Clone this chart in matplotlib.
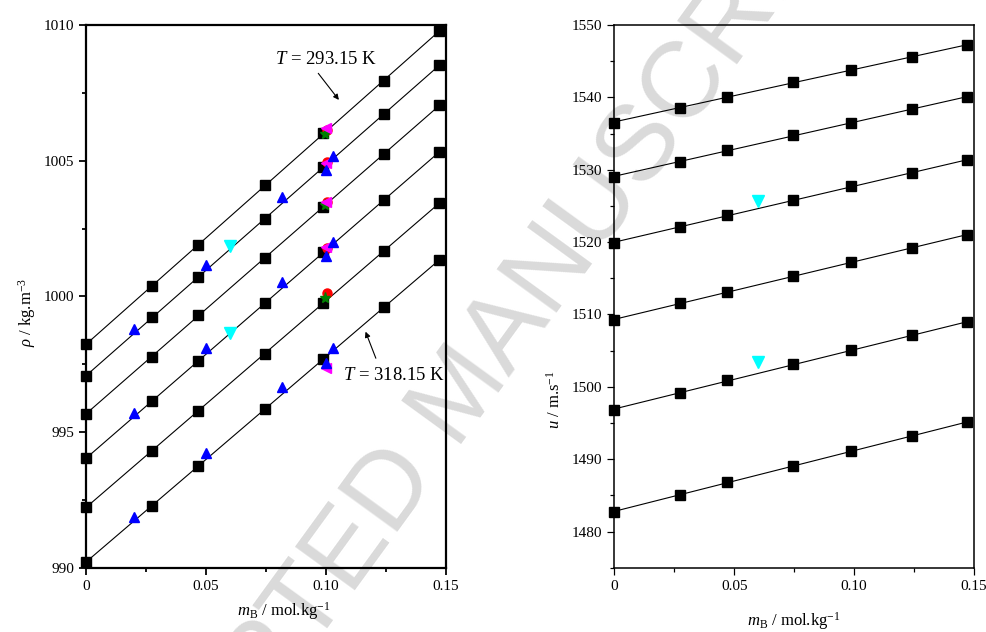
import numpy as np
import matplotlib
matplotlib.use('Agg')
import matplotlib.pyplot as plt
from matplotlib.ticker import MultipleLocator, FixedLocator, FixedFormatter

plt.rcParams['font.family'] = ['Liberation Serif', 'DejaVu Serif']
plt.rcParams['mathtext.fontset'] = 'custom'
plt.rcParams['mathtext.rm'] = 'Liberation Serif'
plt.rcParams['mathtext.it'] = 'Liberation Serif:italic'

# molality of the measured points (same for both panels)
m_B = [0.0, 0.0274, 0.0468, 0.0746, 0.0989, 0.1240, 0.1473]

# density, T = 293.15 ... 318.15 K (top to bottom)
rho_293 = [998.23, 1000.38, 1001.89, 1004.09, 1006.01, 1007.94, 1009.78]
rho_298 = [997.06, 999.23, 1000.70, 1002.86, 1004.78, 1006.71, 1008.51]
rho_303 = [995.66, 997.78, 999.30, 1001.43, 1003.30, 1005.23, 1007.04]
rho_308 = [994.03, 996.14, 997.62, 999.74, 1001.62, 1003.54, 1005.33]
rho_313 = [992.22, 994.30, 995.79, 997.89, 999.77, 1001.67, 1003.43]
rho_318 = [990.20, 992.29, 993.75, 995.85, 997.68, 999.60, 1001.34]

# speed of sound, top to bottom
u_293 = [1536.5, 1538.6, 1540.1, 1542.1, 1543.8, 1545.6, 1547.2]
u_298 = [1529.0, 1531.1, 1532.7, 1534.8, 1536.5, 1538.4, 1540.0]
u_303 = [1519.9, 1522.1, 1523.7, 1525.8, 1527.7, 1529.6, 1531.3]
u_308 = [1509.2, 1511.6, 1513.1, 1515.3, 1517.2, 1519.2, 1521.0]
u_313 = [1496.8, 1499.2, 1500.9, 1503.1, 1505.1, 1507.1, 1508.9]
u_318 = [1482.7, 1485.1, 1486.8, 1489.1, 1491.1, 1493.2, 1495.1]

# literature values
lit_up_x = [0.0815, 0.050, 0.0815, 0.103, 0.100, 0.103, 0.100, 0.020, 0.050,
            0.020, 0.103, 0.0815, 0.100, 0.050, 0.020]
lit_up_y = [1003.67, 1001.16, 1000.54, 1005.17, 1004.66, 1002.01, 1001.49, 998.78, 998.08,
            995.71, 998.08, 996.65, 997.53, 994.22, 991.88]
lit_down_x = [0.060, 0.060]
lit_down_y = [1001.86, 998.64]
lit_circ_x = [0.1005, 0.1005, 0.1005, 0.1005, 0.1005]
lit_circ_y = [1006.13, 1004.96, 1003.46, 1001.80, 1000.11]
lit_star_x = [0.0995, 0.0995, 0.0995]
lit_star_y = [1006.00, 1003.38, 999.95]
lit_left_x = [0.100, 0.100, 0.100, 0.100, 0.100]
lit_left_y = [1006.19, 1004.93, 1003.49, 1001.81, 997.35]
lit_u_x = [0.060, 0.060]
lit_u_y = [1525.7, 1503.5]

xtick_vals = [0, 0.05, 0.10, 0.15]
xtick_labels = ['0', '0.05', '0.10', '0.15']

rho_sets = [rho_293, rho_298, rho_303, rho_308, rho_313, rho_318]
u_sets = [u_293, u_298, u_303, u_308, u_313, u_318]

fig = plt.figure(figsize=(9.87, 6.32), dpi=100)
ax1 = fig.add_axes([0.0871, 0.1017, 0.3647, 0.8587])
ax2 = fig.add_axes([0.6224, 0.1017, 0.3644, 0.8587])

# watermark behind everything
fig.text(0.468, 0.374, 'ACCEPTED MANUSCRIPT', family='Liberation Sans', fontsize=78,
         color='#dadada', rotation=54, ha='center', va='center', zorder=-1)

x = np.array(m_B)
xx = np.array([x.min(), x.max()])
for ax, sets in ((ax1, rho_sets), (ax2, u_sets)):
    ax.set_facecolor('none')
    for s in sets:
        k = np.polyfit(x, s, 1)
        ax.plot(xx, np.polyval(k, xx), color='k', lw=0.8, zorder=2)
        ax.plot(x, s, 's', color='k', ms=6.5, zorder=3, clip_on=False)

ax1.plot(lit_circ_x, lit_circ_y, 'o', color='red', ms=6.5, zorder=4)
ax1.plot(lit_star_x, lit_star_y, '*', color='green', ms=8, zorder=5)
ax1.plot(lit_left_x, lit_left_y, '<', color='magenta', ms=7.5, zorder=6)
ax1.plot(lit_up_x, lit_up_y, '^', color='blue', ms=7.5, zorder=7)
ax1.plot(lit_down_x, lit_down_y, 'v', color='cyan', ms=8, zorder=7)
ax2.plot(lit_u_x, lit_u_y, 'v', color='cyan', ms=8, zorder=7)

arr = dict(arrowstyle='-|>', color='k', lw=0.8, mutation_scale=8, shrinkA=0, shrinkB=0)
ax1.text(0.0788, 1008.74, r'$T$ = 293.15 K', fontsize=13.5, va='center')
ax1.annotate('', xy=(0.1054, 1007.24), xytext=(0.0968, 1008.22), arrowprops=arr)
ax1.text(0.107, 997.1, r'$T$ = 318.15 K', fontsize=13.5, va='center')
ax1.annotate('', xy=(0.1165, 998.70), xytext=(0.1208, 997.72), arrowprops=arr)

ax1.set_xlim(0, 0.15)
ax1.set_ylim(990, 1010)
ax1.yaxis.set_major_locator(MultipleLocator(5))
ax1.yaxis.set_minor_locator(MultipleLocator(2.5))
ax2.set_xlim(0, 0.15)
ax2.set_ylim(1475, 1550)
ax2.yaxis.set_major_locator(MultipleLocator(10))
ax2.yaxis.set_minor_locator(MultipleLocator(5))

for ax, lw in ((ax1, 1.6), (ax2, 1.1)):
    ax.xaxis.set_major_locator(FixedLocator(xtick_vals))
    ax.xaxis.set_major_formatter(FixedFormatter(xtick_labels))
    ax.xaxis.set_minor_locator(MultipleLocator(0.025))
    ax.tick_params(which='both', direction='out', top=False, right=False, labelsize=11, width=lw * 0.8)
    ax.tick_params(which='major', length=5)
    ax.tick_params(which='minor', length=3)
    for sp in ax.spines.values():
        sp.set_linewidth(lw)
    ax.set_xlabel(r'$m_{\rm B}$ / mol.kg$^{-1}$', fontsize=12)

ax1.set_ylabel(r'$\rho$ / kg.m$^{-3}$', fontsize=12)
ax2.set_ylabel(r'$u$ / m.s$^{-1}$', fontsize=12)
ax1.xaxis.set_label_coords(0.55, -0.060)
ax1.yaxis.set_label_coords(-0.133, 0.47)
ax2.xaxis.set_label_coords(0.5, -0.079)
ax2.yaxis.set_label_coords(-0.14, 0.31)

fig.savefig('out.png', dpi=100)
